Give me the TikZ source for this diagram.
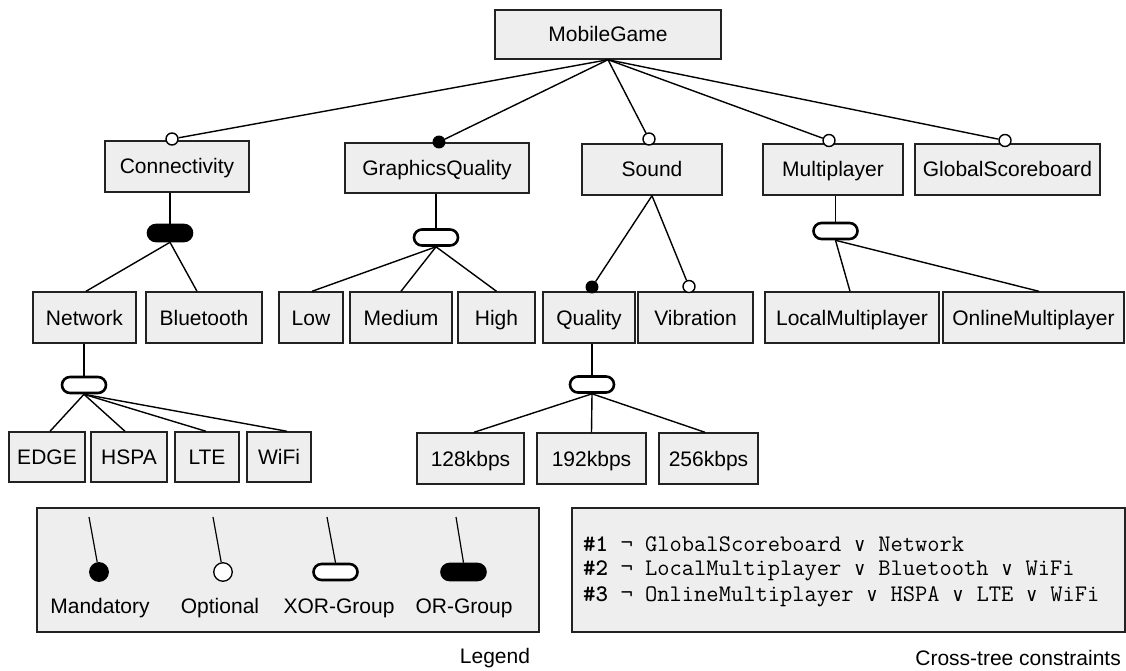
\documentclass[tikz,border=0pt]{standalone}
\usepackage{fontspec}
\setmainfont{Liberation Sans}
\newfontfamily\dvmono{DejaVu Sans Mono}
\definecolor{boxfill}{HTML}{EEEEEE}
\definecolor{boxline}{HTML}{222222}
\tikzset{
  feat/.style={draw=boxline, fill=boxfill, line width=1.4pt, inner sep=0pt,
    text height=15pt, text depth=0pt, font=\fontsize{21}{25}\selectfont},
  conn/.style={line width=1.4pt, black},
  optmk/.style={circle, draw=black, fill=white, line width=1.4pt, inner sep=0pt, minimum size=12pt},
  manmk/.style={circle, draw=black, fill=black, line width=1.4pt, inner sep=0pt, minimum size=11.5pt},
  xorg/.style={rectangle, rounded corners=8pt, draw=black, fill=white, line width=2.6pt, minimum width=44pt, minimum height=16pt, inner sep=0pt},
  org/.style={rectangle, rounded corners=8pt, draw=black, fill=black, line width=2.6pt, minimum width=44pt, minimum height=16pt, inner sep=0pt},
  lab/.style={font=\fontsize{21}{25}\selectfont, inner sep=0pt},
  cons/.style={font=\ttfamily\fontsize{23.8}{27}\selectfont, inner sep=0pt, anchor=west},
}
\newcommand{\vsym}{{\dvmono\fontsize{19}{25}\selectfont\hbox to 12.5pt{\hss ∨\hss}}}
\newcommand{\nsym}{\hbox to 12.5pt{\hss ¬\hss}}
\begin{document}
\begin{tikzpicture}[x=1pt,y=-1pt]
\useasboundingbox (0,0) rectangle (1126,671);
% --- features ---
\node[feat, minimum width=226pt, minimum height=49pt] (mg) at (608,34.5) {MobileGame};
\node[feat, minimum width=144pt, minimum height=51pt] (con) at (177,166.5) {Connectivity};
\node[feat, minimum width=184pt, minimum height=50pt] (gq) at (437,168) {GraphicsQuality};
\node[feat, minimum width=140pt, minimum height=51pt] (snd) at (652,169.5) {Sound};
\node[feat, minimum width=140pt, minimum height=51pt] (mp) at (833,169.5) {Multiplayer};
\node[feat, minimum width=185pt, minimum height=51pt] (gs) at (1007.5,169.5) {GlobalScoreboard};
% row 2
\node[feat, minimum width=103pt, minimum height=51pt] (net) at (84.5,317.5) {Network};
\node[feat, minimum width=116pt, minimum height=51pt] (bt) at (204,317.5) {Bluetooth};
\node[feat, minimum width=64pt, minimum height=51pt] (low) at (311,317.5) {Low};
\node[feat, minimum width=102pt, minimum height=51pt] (med) at (401,317.5) {Medium};
\node[feat, minimum width=77pt, minimum height=51pt] (high) at (496.5,317.5) {High};
\node[feat, minimum width=92pt, minimum height=51pt] (qual) at (589,317.5) {Quality};
\node[feat, minimum width=115pt, minimum height=51pt] (vib) at (695.5,317.5) {Vibration};
\node[feat, minimum width=174pt, minimum height=51pt] (lm) at (852,317.5) {LocalMultiplayer};
\node[feat, minimum width=181pt, minimum height=51pt] (om) at (1033.5,317.5) {OnlineMultiplayer};
% row 3
\node[feat, minimum width=76pt, minimum height=50pt] (edge) at (47,457) {EDGE};
\node[feat, minimum width=76pt, minimum height=50pt] (hspa) at (129,457) {HSPA};
\node[feat, minimum width=64pt, minimum height=50pt] (lte) at (207,457) {LTE};
\node[feat, minimum width=64pt, minimum height=50pt] (wifi) at (279,457) {WiFi};
\node[feat, minimum width=107pt, minimum height=51pt] (k128) at (470.5,458.5) {128kbps};
\node[feat, minimum width=109pt, minimum height=51pt] (k192) at (591.5,458.5) {192kbps};
\node[feat, minimum width=99pt, minimum height=51pt] (k256) at (708.5,458.5) {256kbps};
% --- markers ---
\node[optmk] (mcon) at (172,139) {};
\node[manmk] (mgq) at (439,142) {};
\node[optmk] (msnd) at (649,139) {};
\node[optmk] (mmp) at (829,140.5) {};
\node[optmk] (mgs) at (1005,140.5) {};
\node[manmk] (mqual) at (592,287) {};
\node[optmk] (mvib) at (689,286.5) {};
% --- root connections ---
\foreach \m in {mcon,mgq,msnd,mmp,mgs}
  \draw[conn] (mg.south) -- (\m);
\draw[conn] (snd.south) -- (mqual);
\draw[conn] (snd.south) -- (mvib);
% --- groups ---
\node[org] (gcon) at (170,233) {};
\node[xorg] (ggq) at (436,237.5) {};
\node[xorg] (gmp) at (835.5,231) {};
\node[xorg] (gnet) at (84,385) {};
\node[xorg] (gqual) at (592,384.5) {};
\draw[conn] (gcon.north) -- (gcon.north |- con.south);
\draw[conn] (ggq.north) -- (ggq.north |- gq.south);
\draw[conn] (gmp.north) -- (gmp.north |- mp.south);
\draw[conn] (gnet.north) -- (gnet.north |- net.south);
\draw[conn] (gqual.north) -- (gqual.north |- qual.south);
\draw[conn] (gcon.south) -- ([xshift=1.5pt]net.north);
\draw[conn] (gcon.south) -- ([xshift=-7pt]bt.north);
\draw[conn] (ggq.south) -- ([xshift=1pt]low.north);
\draw[conn] (ggq.south) -- (med.north);
\draw[conn] (ggq.south) -- (high.north);
\draw[conn] (gmp.south) -- ([xshift=-2pt]lm.north);
\draw[conn] (gmp.south) -- ([xshift=5.5pt]om.north);
\draw[conn] (gnet.south) -- ([xshift=3pt]edge.north);
\draw[conn] (gnet.south) -- ([xshift=-4pt]hspa.north);
\draw[conn] (gnet.south) -- ([xshift=-1pt]lte.north);
\draw[conn] (gnet.south) -- ([xshift=8pt]wifi.north);
\draw[conn] (gqual.south) -- ([xshift=3.5pt]k128.north);
\draw[conn] (gqual.south) -- (k192.north);
\draw[conn] (gqual.south) -- ([xshift=-3.5pt]k256.north);
% --- legend ---
\node[draw=boxline, fill=boxfill, line width=1.4pt, minimum width=502pt, minimum height=124pt, inner sep=0pt] (legend) at (288,570) {};
\node[circle, fill=black, draw=black, line width=1.3pt, inner sep=0pt, minimum size=18.5pt] (lman) at (99,572) {};
\node[circle, fill=white, draw=black, line width=1.3pt, inner sep=0pt, minimum size=18.5pt] (lopt) at (223,572) {};
\node[xorg] (lxor) at (335.5,572) {};
\node[org] (lor) at (463.5,572) {};
\coordinate (t1) at (89,517);
\coordinate (t2) at (213,517);
\coordinate (t3) at (327,517);
\coordinate (t4) at (456,517);
\draw[conn, line width=1.2pt] (t1) -- (lman);
\draw[conn, line width=1.2pt] (t2) -- (lopt);
\draw[conn, line width=1.2pt] (t3) -- (lxor.north);
\draw[conn, line width=1.2pt] (t4) -- (lor.north);
\node[lab] (lt1) at (100,608) {Mandatory};
\node[lab] (lt2) at (220,608) {Optional};
\node[lab] (lt3) at (339,608) {XOR-Group};
\node[lab] (lt4) at (464,608) {OR-Group};
\node[lab] (legtitle) at (495,658) {Legend};
% --- constraints ---
\node[draw=boxline, fill=boxfill, line width=1.4pt, minimum width=553pt, minimum height=124pt, inner sep=0pt] (cbox) at (848.5,570) {};
\node[cons] (c1) at (583,544) {\textbf{\#1} \nsym{} GlobalScoreboard \vsym{} Network};
\node[cons] (c2) at (583,571) {\textbf{\#2} \nsym{} LocalMultiplayer \vsym{} Bluetooth \vsym{} WiFi};
\node[cons] (c3) at (583,597) {\textbf{\#3} \nsym{} OnlineMultiplayer \vsym{} HSPA \vsym{} LTE \vsym{} WiFi};
\node[lab, anchor=east] (ctitle) at (1121,658) {Cross-tree constraints};
\end{tikzpicture}
\end{document}
